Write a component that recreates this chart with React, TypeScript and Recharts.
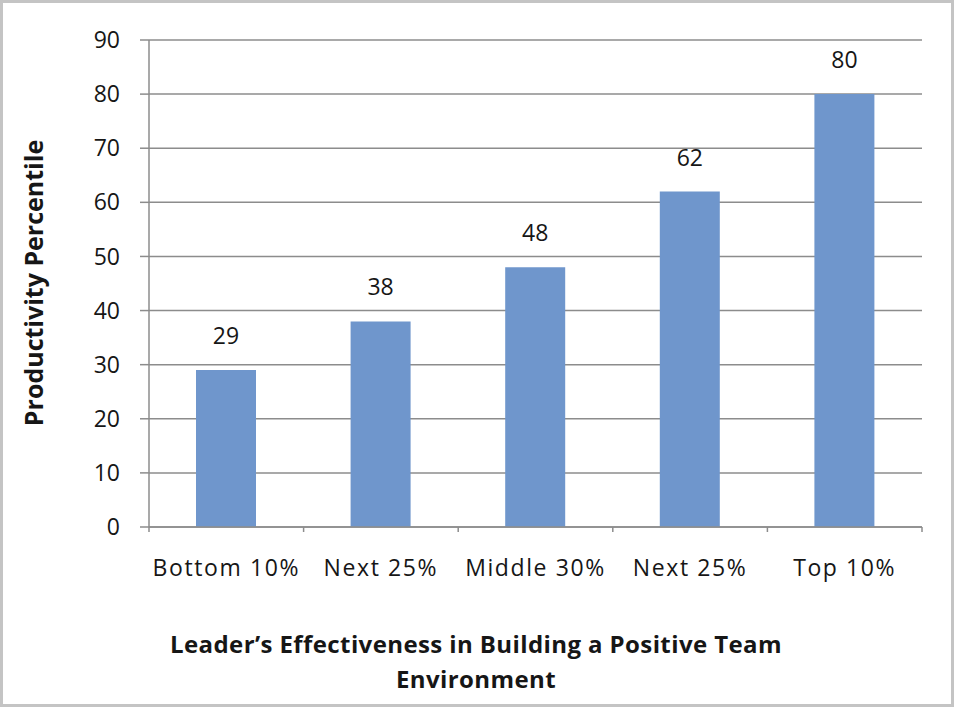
import React from 'react';
import { BarChart, Bar, XAxis, YAxis, CartesianGrid, LabelList, Label } from 'recharts';

const categories = ['Bottom 10%', 'Next 25%', 'Middle 30%', 'Next 25%', 'Top 10%'];
const productivity = [29, 38, 48, 62, 80];
const yTicks = [0, 10, 20, 30, 40, 50, 60, 70, 80, 90];
const yTitle = 'Productivity Percentile';
const xTitleLines = ['Leader\u2019s Effectiveness in Building a Positive Team', 'Environment'];

const data = categories.map((c, i) => ({ idx: i, name: c, value: productivity[i] }));

const W = 960;
const H = 710;
const M = { top: 40, right: 38, left: 0, bottom: 123 };
const Y_W = 149;
const BAND = (W - M.left - Y_W - M.right) / categories.length;
const FONT = '"Open Sans", sans-serif';
const TEXT = '#161616';
const GRID = '#8c8c8c';
const BAR = '#6f96cc';

function CatTick(props: any) {
  const { x, y, payload, index } = props;
  const label = categories[payload.value] ?? '';
  return (
    <g>
      <line x1={x - BAND / 2} x2={x - BAND / 2} y1={y} y2={y + 5} stroke={GRID} strokeWidth={1.5} />
      {index === categories.length - 1 && (
        <line x1={x + BAND / 2} x2={x + BAND / 2} y1={y} y2={y + 5} stroke={GRID} strokeWidth={1.5} />
      )}
      <text x={x} y={y + 41} dy="0.35em" textAnchor="middle" fill={TEXT} fontSize={23} fontFamily={FONT} letterSpacing={1.6}>
        {label}
      </text>
    </g>
  );
}

export default function App() {
  return (
    <div style={{ position: 'absolute', left: 0, top: 0, width: W, height: H, background: '#fff' }}>
      <BarChart width={W} height={H} data={data} margin={M} barSize={60}>
        <CartesianGrid vertical={false} stroke={GRID} strokeWidth={1.5} />
        <XAxis
          dataKey="idx"
          type="category"
          height={60}
          axisLine={{ stroke: GRID, strokeWidth: 1.5 }}
          tickLine={false}
          tickSize={0}
          tickMargin={0}
          tick={<CatTick />}
          interval={0}
        >
          <Label
            content={() => (
              <text textAnchor="middle" fill={TEXT} fontSize={24} fontWeight={700} fontFamily={FONT} letterSpacing={0.4}>
                <tspan x={476} y={645} dy="0.35em">{xTitleLines[0]}</tspan>
                <tspan x={476} y={680} dy="0.35em">{xTitleLines[1]}</tspan>
              </text>
            )}
          />
        </XAxis>
        <YAxis
          width={Y_W}
          domain={[0, 90]}
          ticks={yTicks}
          interval={0}
          axisLine={{ stroke: GRID, strokeWidth: 1.5 }}
          tickLine={{ stroke: GRID, strokeWidth: 1.5 }}
          tickSize={9}
          tickMargin={20}
          tick={{ fill: TEXT, fontSize: 23, fontFamily: FONT }}
        >
          <Label
            content={() => (
              <text
                x={33}
                y={283}
                transform="rotate(-90 33 283)"
                textAnchor="middle"
                dominantBaseline="central"
                fill={TEXT}
                fontSize={25}
                fontWeight={700}
                fontFamily={FONT}
              >
                {yTitle}
              </text>
            )}
          />
        </YAxis>
        <Bar dataKey="value" fill={BAR} isAnimationActive={false}>
          <LabelList dataKey="value" position="top" offset={26} fill={TEXT} fontSize={23} fontFamily={FONT} />
        </Bar>
      </BarChart>
      <div
        style={{
          position: 'absolute',
          left: 0,
          top: 0,
          width: 954,
          height: 707,
          border: '3px solid #c4c4c4',
          boxSizing: 'border-box',
          pointerEvents: 'none',
        }}
      />
    </div>
  );
}
